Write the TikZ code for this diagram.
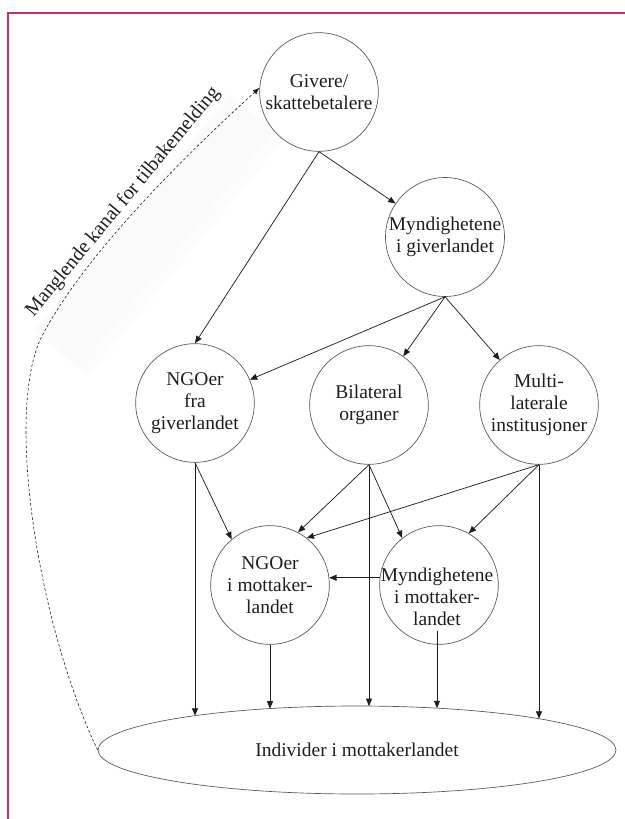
\documentclass[tikz,border=0pt]{standalone}
\usepackage{fontspec}
\setmainfont{Liberation Serif}
\usetikzlibrary{shapes.geometric,arrows.meta,calc}
\definecolor{framecol}{RGB}{200,45,110}
\definecolor{ink}{RGB}{30,30,30}
\definecolor{rim}{RGB}{85,85,85}
\newcommand\vdrop[1]{\draw[arr] let \p1=(#1), \p2=(ind.center), \n1={\y2+33*sqrt(1-((\x1-\x2)/194.25)^2)} in (\p1) -- (\x1,\n1);}
\begin{document}
\begin{tikzpicture}[x=0.75pt,y=-0.75pt,
  lab/.style={font=\fontsize{14.6}{16.5}\selectfont, text=ink, align=center},
  circ/.style={circle, draw=rim, line width=0.5pt, minimum size=89pt, inner sep=0pt, lab},
  arr/.style={draw=ink, line width=0.55pt, -{Triangle[length=5.5pt,width=4.5pt]}},
  fbline/.style={draw=ink, line width=0.45pt, dash pattern=on 2pt off 1.6pt, -{Latex[length=5pt,width=4pt]}}
  ]
\useasboundingbox (0,0) rectangle (625,819);
\fill[white] (0,0) rectangle (625,819);
\draw[framecol, line width=1.5pt] (7.5,819) -- (7.5,13) -- (625,13);
% faint band behind the feedback label
\begin{scope}[shift={(159,235)}, rotate=50.3]
  \fill[gray!2] (-154,-35) rectangle (154,35);
  \fill[gray!4] (-152,-33) rectangle (152,22);
\end{scope}
% nodes
\node[circ] (giv) at (319,92) {Givere/\\skattebetalere};
\node[circ] (myg) at (445,237) {Myndighetene\\i giverlandet};
\node[circ] (nfra) at (195,403) {NGOer\\fra\\giverlandet};
\node[circ] (bil) at (369,405) {Bilateral\\organer};
\node[circ] (mul) at (539,405) {Multi-\\laterale\\institusjoner};
\node[circ] (ngom) at (270,585) {NGOer\\i mottaker-\\landet};
\node[circ] (mym) at (439,585) {};
\node[lab] (mymt) at (437,597) {Myndighetene\\i mottaker-\\landet};
\node[ellipse, draw=rim, line width=0.5pt, minimum width=388.5pt, minimum height=66pt, inner sep=0pt, lab] (ind) at (357,750) {Individer i mottakerlandet};
\node[lab, font=\fontsize{15}{18}\selectfont, rotate=50.3] (fb) at (123,202) {Manglende kanal for tilbakemelding};
% feedback line
\draw[fbline] (ind.west) .. controls (40,630) and (5,420) .. (40,340)
  .. controls (80,260) and (180,160) .. (giv.176);
% edges
\draw[arr] (giv.south) -- (myg);
\draw[arr] (giv.south) -- (nfra.north);
\draw[arr] (myg.south) -- (nfra);
\draw[arr] (myg.south) -- (bil);
\draw[arr] (myg.south) -- (mul);
\draw[arr] (nfra.south) -- (ngom.130);
\draw[arr] (bil.south) -- (ngom.62);
\draw[arr] (bil.south) -- (mym.128);
\draw[arr] (mul.south) -- (ngom.52);
\draw[arr] (mul.south) -- (mym.60);
\draw[arr] (mym.173) -- (ngom.7);
\vdrop{nfra.south}
\vdrop{bil.south}
\vdrop{mul.south}
\vdrop{ngom.south}
\vdrop{mymt.south}
\end{tikzpicture}
\end{document}
